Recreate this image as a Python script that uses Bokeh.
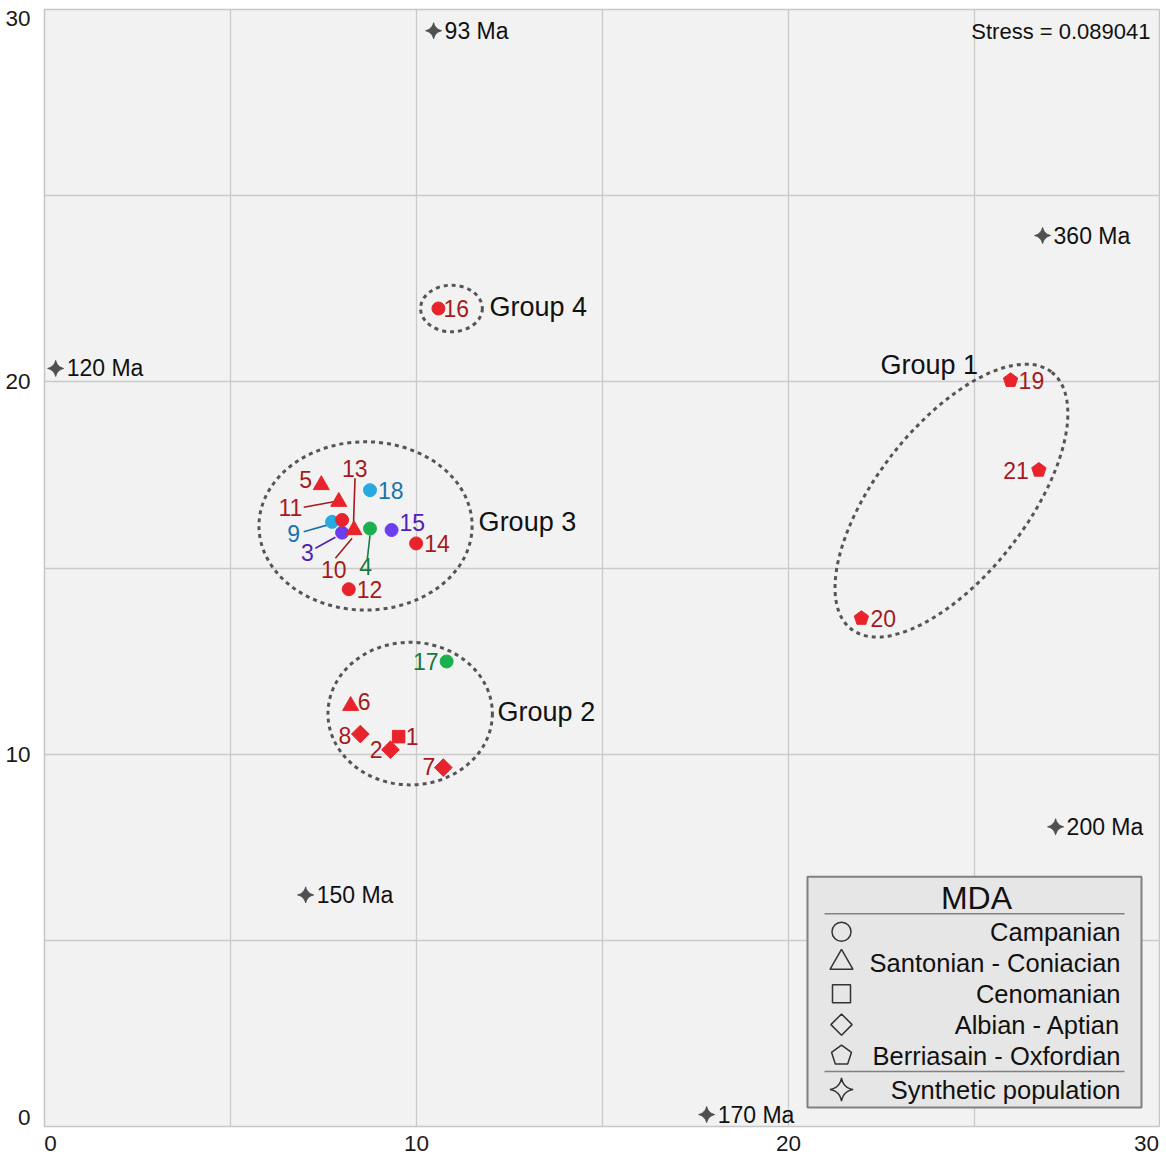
import math
from bokeh.plotting import figure
from bokeh.models import Range1d, FixedTicker, ColumnDataSource, NumeralTickFormatter
from bokeh.core.properties import value
from bokeh.embed import file_html
from bokeh.resources import INLINE

# ------------------------------------------------------------------ data
sample_id = [str(i) for i in range(1, 22)]
mds_x = [9.52, 9.30, 8.00, 8.75, 7.44, 8.23, 10.72, 8.49, 7.73, 8.00, 7.91,
         8.18, 8.32, 9.99, 9.33, 10.59, 10.81, 8.75, 25.97, 21.96, 26.73]
mds_y = [10.47, 10.12, 15.95, 16.06, 17.23, 11.30, 9.64, 10.54, 16.24, 16.29, 16.78,
         14.43, 16.02, 15.66, 16.02, 21.97, 12.49, 17.09, 20.04, 13.65, 17.63]
mda_class = ["Cenomanian", "Albian - Aptian", "Campanian", "Campanian",
             "Santonian - Coniacian", "Santonian - Coniacian", "Albian - Aptian",
             "Albian - Aptian", "Campanian", "Campanian", "Santonian - Coniacian",
             "Campanian", "Santonian - Coniacian", "Campanian", "Campanian",
             "Campanian", "Campanian", "Campanian", "Berriasain - Oxfordian",
             "Berriasain - Oxfordian", "Berriasain - Oxfordian"]
sample_set = ["A", "A", "B", "C", "A", "A", "A", "A", "D", "A", "A",
              "A", "A", "A", "B", "A", "C", "D", "A", "A", "A"]

synth_label = ["93 Ma", "120 Ma", "150 Ma", "170 Ma", "200 Ma", "360 Ma"]
synth_x = [10.46, 0.30, 7.02, 17.80, 27.18, 26.83]
synth_y = [29.43, 20.36, 6.22, 0.32, 8.05, 23.93]

group_name = ["Group 1", "Group 2", "Group 3", "Group 4"]
group_cx = [24.38, 9.83, 8.63, 10.94]
group_cy = [16.81, 11.09, 16.13, 21.97]
group_w = [8.76, 4.42, 5.73, 1.66]
group_h = [4.03, 3.83, 4.52, 1.25]
group_angle_deg = [52, 0, 0, 0]

stress_text = "Stress = 0.089041"
tick_values = [0, 10, 20, 30]

legend_title = "MDA"
legend_labels = ["Campanian", "Santonian - Coniacian", "Cenomanian",
                 "Albian - Aptian", "Berriasain - Oxfordian", "Synthetic population"]

# ------------------------------------------------------------------ styles
FONT = "Liberation Sans"
FW, FH = 1116, 1117
sx, sy = FW / 30.0, FH / 30.0
fill_of = {"A": "#e8232b", "B": "#6c3ef2", "C": "#1bb04d", "D": "#2aa9e0"}
text_of = {"A": "#a51a20", "B": "#4e22b5", "C": "#157a3b", "D": "#1b73ad"}

# label offsets in screen px (dx right, dy down) and alignment
label_layout = {
    "1": (7, 0, "left"), "2": (-8, 0, "right"), "3": (-34.7, 20.3, "center"),
    "4": (-4.3, 38.4, "center"), "5": (-15.7, -5, "center"), "6": (7, -4, "left"),
    "7": (-8, -1, "right"), "8": (-9, 1, "right"), "9": (-38.4, 11.6, "center"),
    "10": (-8.4, 50, "center"), "11": (-48.3, 5.3, "center"), "12": (8, 0, "left"),
    "13": (0.7, -62, "center"), "14": (8, 0, "left"), "15": (8, -8, "left"),
    "16": (5, 0, "left"), "17": (-8, 0, "right"), "18": (8, 0, "left"),
    "19": (8, 0, "left"), "20": (9, 0, "left"), "21": (-10, 0, "right"),
}
leader_layout = {
    "3": (-26.7, 15.6, -6.7, 4.6), "4": (-2.6, 30, 0, 6.7), "9": (-28.4, 10, -5, 3.3),
    "10": (-6.7, 38.3, 10, 18.3), "11": (-35, 5.6, -5, 0), "13": (1, -51.7, -0.6, -3.3),
}
group_label_pos = {"Group 1": (22.47, 20.45), "Group 2": (12.18, 11.13),
                   "Group 3": (11.67, 16.23), "Group 4": (11.96, 22.0)}


def RX(px):
    return (px - 44) / 37.2


def RY(py):
    return (1127 - py) / 37.27


def pentagon(cx, cy, r_px):
    xs = [cx + r_px / sx * math.sin(2 * math.pi * k / 5) for k in range(5)]
    ys = [cy + r_px / sy * math.cos(2 * math.pi * k / 5) for k in range(5)]
    return xs, ys


def star4(cx, cy, r_px, c=0.15, n=8):
    tips = [(1, 0), (0, 1), (-1, 0), (0, -1)]
    ctrl = [(c, c), (-c, c), (-c, -c), (c, -c)]
    xs, ys = [], []
    for i in range(4):
        p0, p2, cc = tips[i], tips[(i + 1) % 4], ctrl[i]
        for j in range(n):
            t = j / n
            bx = (1 - t) ** 2 * p0[0] + 2 * (1 - t) * t * cc[0] + t * t * p2[0]
            by = (1 - t) ** 2 * p0[1] + 2 * (1 - t) * t * cc[1] + t * t * p2[1]
            xs.append(cx + bx * r_px / sx)
            ys.append(cy + by * r_px / sy)
    return xs, ys


# ------------------------------------------------------------------ figure
p = figure(frame_width=FW, frame_height=FH, x_range=Range1d(0, 30), y_range=Range1d(0, 30),
           output_backend="svg", toolbar_location=None,
           min_border_left=44, min_border_right=0, min_border_top=9, min_border_bottom=30,
           background_fill_color="#f2f2f2", border_fill_color="white",
           outline_line_color="#c6c6c6", outline_line_width=1.5)

p.xaxis.ticker = FixedTicker(ticks=[tick_values[0] + 6 / sx, tick_values[1], tick_values[2],
                                    tick_values[3] - 14 / sx])
p.yaxis.ticker = FixedTicker(ticks=[tick_values[0] + 9 / sy, tick_values[1], tick_values[2],
                                    tick_values[3] - 9 / sy])
for ax in (p.xaxis[0], p.yaxis[0]):
    ax.formatter = NumeralTickFormatter(format="0")
    ax.axis_line_color = None
    ax.major_tick_line_color = None
    ax.minor_tick_line_color = None
    ax.major_label_text_font = FONT
    ax.major_label_text_font_size = "22.5px"
    ax.major_label_text_color = "#1a1a1a"
p.xaxis.major_label_standoff = 3
p.yaxis.major_label_standoff = 8

grid_ticks = [5, 10, 15, 20, 25]
p.xgrid.ticker = FixedTicker(ticks=grid_ticks)
p.ygrid.ticker = FixedTicker(ticks=grid_ticks)
p.grid.grid_line_color = "#cacaca"
p.grid.grid_line_width = 1.3

# group ellipses
p.ellipse(x=group_cx, y=group_cy, width=group_w, height=group_h,
          angle=[math.radians(a) for a in group_angle_deg],
          fill_color=None, line_color="#555555", line_width=3, line_dash="4 4")
for g in group_name:
    gx, gy = group_label_pos[g]
    p.text(x=[gx], y=[gy], text=[g], text_font=value(FONT), text_font_size=value("27px"),
           text_color="#111111", text_align="left", text_baseline="middle")

# leader lines
lx0, ly0, lx1, ly1, lc = [], [], [], [], []
for i, sid in enumerate(sample_id):
    if sid in leader_layout:
        a, b, c, d = leader_layout[sid]
        lx0.append(mds_x[i] + a / sx); ly0.append(mds_y[i] - b / sy)
        lx1.append(mds_x[i] + c / sx); ly1.append(mds_y[i] - d / sy)
        lc.append(text_of[sample_set[i]])
p.segment(x0=lx0, y0=ly0, x1=lx1, y1=ly1, line_color=lc, line_width=1.6)

# synthetic population stars
sxs, sys_ = [], []
for x, y in zip(synth_x, synth_y):
    a, b = star4(x, y, 8, c=0.2)
    sxs.append(a); sys_.append(b)
p.patches(xs=sxs, ys=sys_, fill_color="#505050", line_color="#505050", line_width=1)
p.text(x=[x + 11 / sx for x in synth_x], y=synth_y, text=synth_label,
       text_font=value(FONT), text_font_size=value("23px"), text_color="#111111",
       text_align="left", text_baseline="middle")

# sample markers
marker_of = {"Campanian": ("circle", 13, 0), "Santonian - Coniacian": ("triangle", 16, 0),
             "Cenomanian": ("square", 12.5, 0), "Albian - Aptian": ("square", 12.5, math.pi / 4)}
for cls, (mk, size, ang) in marker_of.items():
    idx = [i for i, c in enumerate(mda_class) if c == cls]
    src = ColumnDataSource(dict(x=[mds_x[i] for i in idx], y=[mds_y[i] for i in idx],
                                c=[fill_of[sample_set[i]] for i in idx]))
    p.scatter("x", "y", source=src, marker=mk, size=size, angle=ang,
              fill_color="c", line_color="c", line_width=1)
pxs, pys, pcs = [], [], []
for i, cls in enumerate(mda_class):
    if cls == "Berriasain - Oxfordian":
        a, b = pentagon(mds_x[i], mds_y[i], 7.5)
        pxs.append(a); pys.append(b); pcs.append(fill_of[sample_set[i]])
p.patches(xs=pxs, ys=pys, fill_color=pcs, line_color=pcs, line_width=1)

# sample labels
for align in ("left", "right", "center"):
    idx = [i for i, s in enumerate(sample_id) if label_layout[s][2] == align]
    src = ColumnDataSource(dict(
        x=[mds_x[i] + label_layout[sample_id[i]][0] / sx for i in idx],
        y=[mds_y[i] - label_layout[sample_id[i]][1] / sy for i in idx],
        t=[sample_id[i] for i in idx],
        c=[text_of[sample_set[i]] for i in idx]))
    p.text("x", "y", text="t", source=src, text_font=value(FONT), text_font_size=value("23px"),
           text_color="c", text_align=align, text_baseline="middle")

# stress
p.text(x=[RX(1150)], y=[RY(31)], text=[stress_text], text_font=value(FONT),
       text_font_size=value("22px"), text_color="#111111", text_align="right",
       text_baseline="middle")

# legend (drawn)
p.quad(left=[RX(807)], right=[RX(1141)], top=[RY(877)], bottom=[RY(1108)],
       fill_color="#e6e6e6", line_color="#808080", line_width=2)
p.text(x=[RX(976)], y=[RY(898)], text=[legend_title], text_font=value(FONT),
       text_font_size=value("32px"), text_color="#111111", text_align="center",
       text_baseline="middle")
p.segment(x0=[RX(824), RX(824)], y0=[RY(914), RY(1072)], x1=[RX(1124), RX(1124)],
          y1=[RY(914), RY(1072)], line_color="#808080", line_width=1.5)
row_py = [932, 963, 994, 1025, 1056, 1090]
mkx = RX(841)
lg_style = dict(fill_color=None, line_color="#333333", line_width=1.5)
p.scatter([mkx], [RY(row_py[0])], marker="circle", size=19, **lg_style)
p.scatter([mkx], [RY(row_py[1])], marker="triangle", size=23, **lg_style)
p.scatter([mkx], [RY(row_py[2])], marker="square", size=18, **lg_style)
p.scatter([mkx], [RY(row_py[3])], marker="square", size=15, angle=math.pi / 4, **lg_style)
a, b = pentagon(mkx, RY(row_py[4]), 10.5)
p.patches(xs=[a], ys=[b], **lg_style)
a, b = star4(mkx, RY(row_py[5]), 11.5)
p.patches(xs=[a], ys=[b], **lg_style)
p.text(x=[RX(1120)] * len(legend_labels), y=[RY(v) for v in row_py], text=legend_labels,
       text_font=value(FONT), text_font_size=value("25.5px"), text_color="#111111",
       text_align="right", text_baseline="middle")

open("out.html", "w").write(file_html(p, INLINE))
